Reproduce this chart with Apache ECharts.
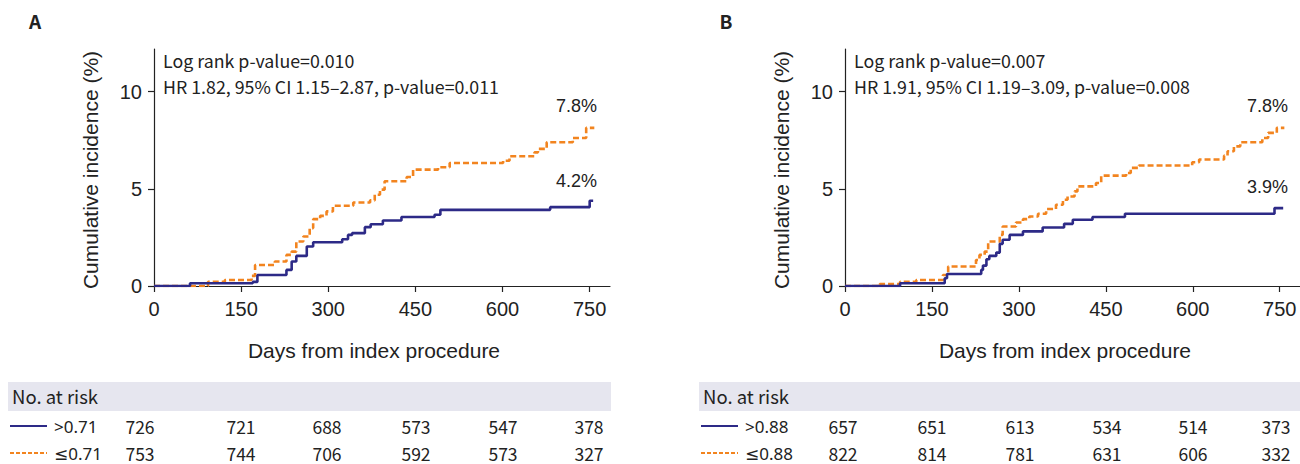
<!DOCTYPE html>
<html><head><meta charset="utf-8">
<script src="https://cdn.jsdelivr.net/npm/echarts@6/dist/echarts.min.js"></script>
<style>html,body{margin:0;padding:0;background:#fff}#c{width:1300px;height:464px}</style>
</head><body><div id="c"></div>
<script>
// ---------- DATA ----------
const xTicks = [0, 150, 300, 450, 600, 750];
const yTicks = [0, 5, 10];

// Panel A
const aHiDays = [0, 62, 170, 178, 228, 237, 245, 263, 274, 324, 334, 341, 363, 373, 394, 426, 483, 493, 682, 750, 756];
const aHiVals = [0, 0.14, 0.21, 0.57, 0.83, 1.26, 1.55, 2.03, 2.25, 2.41, 2.63, 2.72, 3.03, 3.18, 3.37, 3.55, 3.67, 3.92, 4.06, 4.39, 4.39];
const aLoDays = [0, 93, 122, 168, 174, 208, 228, 237, 245, 257, 268, 274, 286, 297, 308, 343, 372, 380, 389, 397, 435, 446, 489, 509, 601, 612, 655, 661, 676, 721, 744, 758];
const aLoVals = [0, 0.22, 0.31, 0.52, 1.08, 1.26, 1.6, 1.77, 2.29, 2.55, 2.98, 3.44, 3.61, 3.84, 4.13, 4.3, 4.41, 4.7, 4.96, 5.39, 5.61, 5.99, 6.11, 6.33, 6.45, 6.68, 6.88, 7.06, 7.4, 7.62, 8.14, 8.14];

// Panel B
const bHiDays = [0, 95, 172, 176, 235, 238, 244, 249, 261, 267, 272, 284, 307, 341, 378, 393, 427, 483, 741, 756];
const bHiVals = [0, 0.14, 0.4, 0.62, 0.83, 1.05, 1.38, 1.55, 1.72, 2.17, 2.38, 2.63, 2.81, 3.01, 3.2, 3.41, 3.55, 3.72, 4.01, 4.01];
const bLoDays = [0, 60, 95, 123, 169, 178, 226, 232, 241, 247, 267, 272, 295, 307, 318, 333, 347, 364, 376, 384, 396, 401, 433, 442, 485, 493, 507, 599, 611, 654, 660, 671, 682, 720, 730, 745, 758];
const bLoVals = [0, 0.1, 0.22, 0.31, 0.57, 1.0, 1.34, 1.6, 1.77, 2.29, 2.63, 3.06, 3.27, 3.44, 3.58, 3.72, 3.96, 4.18, 4.44, 4.61, 4.87, 5.13, 5.3, 5.68, 5.82, 6.08, 6.2, 6.37, 6.51, 6.71, 6.94, 7.19, 7.4, 7.62, 7.88, 8.14, 8.14];

const panelLabels = ['A', 'B'];
const statsA = ['Log rank p-value=0.010', 'HR 1.82, 95% CI 1.15\u20132.87, p-value=0.011'];
const statsB = ['Log rank p-value=0.007', 'HR 1.91, 95% CI 1.19\u20133.09, p-value=0.008'];
const endLabelsA = ['7.8%', '4.2%'];
const endLabelsB = ['7.8%', '3.9%'];
const groupsA = ['>0.71', '\u22640.71'];
const groupsB = ['>0.88', '\u22640.88'];
const riskAHi = [726, 721, 688, 573, 547, 378];
const riskALo = [753, 744, 706, 592, 573, 327];
const riskBHi = [657, 651, 613, 534, 514, 373];
const riskBLo = [822, 814, 781, 631, 606, 332];
const yName = 'Cumulative incidence (%)';
const xName = 'Days from index procedure';
const riskTitle = 'No. at risk';

// ---------- STYLE / LAYOUT ----------
const NAVY = '#2d2a87';
const ORANGE = '#f2841f';
const INK = '#222';
const NUMFONT = '"Liberation Sans", Arial, sans-serif';
const TXTFONT = '"Noto Sans CJK KR", "Noto Sans", sans-serif';
const SYMFONT = '"Noto Sans", "DejaVu Sans", sans-serif';
const XMAX = 785, YMAX = 12.2;
const grids = [
  {left: 154, top: 49, width: 456, height: 237},
  {left: 845, top: 49, width: 456, height: 237}
];
const colsA = [140, 241, 327, 416, 503, 589];
const colsB = [843, 932, 1020, 1107, 1193, 1276];
const ROW1 = 426, ROW2 = 453;

function pairs(d, v) { return d.map((t, i) => [t, v[i]]); }

const chart = echarts.init(document.getElementById('c'), null, {renderer: 'svg'});

function xAxis(gi) {
  return {
    type: 'value', gridIndex: gi, min: 0, max: XMAX,
    axisLine: {show: true, onZero: false, lineStyle: {color: INK, width: 1.2}},
    axisTick: {show: true, length: 6, customValues: xTicks, lineStyle: {color: INK, width: 1.2}},
    axisLabel: {customValues: xTicks, color: INK, fontSize: 20, fontFamily: NUMFONT, margin: 13},
    splitLine: {show: false}
  };
}
function yAxis(gi) {
  return {
    type: 'value', gridIndex: gi, min: 0, max: YMAX,
    axisLine: {show: true, lineStyle: {color: INK, width: 1.2}},
    axisTick: {show: true, length: 6, customValues: yTicks, lineStyle: {color: INK, width: 1.2}},
    axisLabel: {customValues: yTicks, color: INK, fontSize: 20, fontFamily: NUMFONT, margin: 12},
    splitLine: {show: false}
  };
}
function curve(gi, data, color, dashed) {
  return {
    type: 'line', xAxisIndex: gi, yAxisIndex: gi, step: 'end', data: data,
    symbol: 'none', silent: true, animation: false,
    lineStyle: {color: color, width: 2.6, type: dashed ? [6, 3] : 'solid'}
  };
}

const g = [];
function txt(x, y, s, o) {
  g.push({type: 'text', x: x, y: y, silent: true, rotation: (o && o.rot) || 0,
    style: Object.assign({text: s, fill: INK, font: '17px ' + TXTFONT, textAlign: 'left', textVerticalAlign: 'middle'}, (o && o.style) || {})});
}
function panelDecor(p, dx, stats, ends, groups, rHi, rLo, cols) {
  txt(35 + dx, 20, p, {style: {font: 'bold 19px ' + TXTFONT, textAlign: 'center'}});
  txt(163 + dx, 60, stats[0], {style: {font: '17.8px ' + TXTFONT}});
  txt(163 + dx, 86, stats[1], {style: {font: '17.8px ' + TXTFONT}});
  txt(597 + dx, 106, ends[0], {style: {font: '18px ' + NUMFONT, textAlign: 'right'}});
  txt(597 + dx, p === 'A' ? 181 : 187, ends[1], {style: {font: '18px ' + NUMFONT, textAlign: 'right'}});
  g.push({type: 'text', x: 90 + dx, y: 170, rotation: Math.PI / 2, silent: true,
    style: {text: yName, fill: INK, font: '21px ' + NUMFONT, textAlign: 'center', textVerticalAlign: 'middle'}});
  txt(374 + dx, 350, xName, {style: {font: '21px ' + NUMFONT, textAlign: 'center'}});
  // risk table
  g.push({type: 'rect', silent: true, shape: {x: 8 + dx, y: 382, width: 603, height: 29}, style: {fill: '#e6e6ef'}});
  txt(12 + dx, 396, riskTitle, {style: {font: '18.5px ' + TXTFONT}});
  g.push({type: 'line', silent: true, shape: {x1: 10 + dx, y1: ROW1, x2: 47 + dx, y2: ROW1}, style: {stroke: NAVY, lineWidth: 2.2}});
  g.push({type: 'line', silent: true, shape: {x1: 10 + dx, y1: ROW2, x2: 47 + dx, y2: ROW2}, style: {stroke: ORANGE, lineWidth: 2.2, lineDash: [4, 2]}});
  txt(54 + dx, ROW1, groups[0], {style: {font: '17px ' + SYMFONT}});
  txt(54 + dx, ROW2, groups[1], {style: {font: '17px ' + SYMFONT}});
  rHi.forEach((v, i) => txt(cols[i], ROW1, String(v), {style: {font: '17.5px ' + TXTFONT, textAlign: 'center'}}));
  rLo.forEach((v, i) => txt(cols[i], ROW2, String(v), {style: {font: '17.5px ' + TXTFONT, textAlign: 'center'}}));
}
panelDecor(panelLabels[0], 0, statsA, endLabelsA, groupsA, riskAHi, riskALo, colsA);
panelDecor(panelLabels[1], 691, statsB, endLabelsB, groupsB, riskBHi, riskBLo, colsB);

chart.setOption({
  animation: false,
  backgroundColor: '#fff',
  grid: grids,
  xAxis: [xAxis(0), xAxis(1)],
  yAxis: [yAxis(0), yAxis(1)],
  series: [
    curve(0, pairs(aLoDays, aLoVals), ORANGE, true),
    curve(0, pairs(aHiDays, aHiVals), NAVY, false),
    curve(1, pairs(bLoDays, bLoVals), ORANGE, true),
    curve(1, pairs(bHiDays, bHiVals), NAVY, false)
  ],
  graphic: g
});
</script></body></html>
